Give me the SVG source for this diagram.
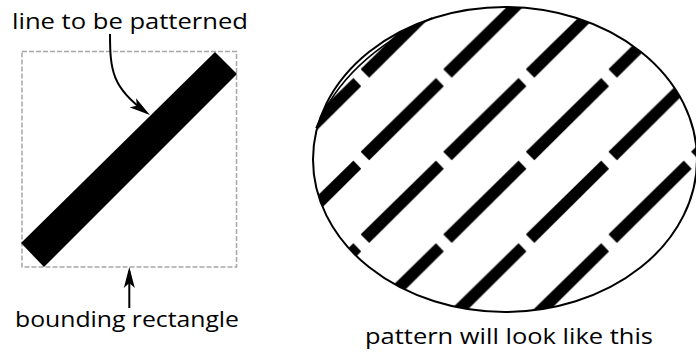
<svg xmlns="http://www.w3.org/2000/svg" width="696" height="354" viewBox="0 0 696 354">
  <style>
    .lbl { font-family: "Open Sans", Lato, "Liberation Sans", sans-serif; font-size: 21.5px; fill: #000; }
    .conn { fill: none; stroke: #000; stroke-width: 2; }
  </style>
  <defs>
    <marker id="ah" markerUnits="userSpaceOnUse" markerWidth="24" markerHeight="12" refX="17" refY="6" orient="auto">
      <path d="M0,0.5 L21,6 L0,11.5 L5,6 Z" fill="#000"/>
    </marker>
    <pattern id="dashpat" patternUnits="userSpaceOnUse" x="361" y="77.5" width="82.6" height="82.6">
      <polygon points="75,0.6 82.9,8.7 8.2,82.8 -0.3,74.3" fill="#000"/>
    </pattern>
  </defs>
  <rect width="696" height="354" fill="#fff"/>

  <g id="bounding-rect">
    <rect x="22" y="51.5" width="214.5" height="215.5" fill="none" stroke="#a6a6a6" stroke-width="1.5" stroke-dasharray="5 2"/>
  </g>
  <g id="line">
    <polygon points="215,52 237,74 44,267 21,243" fill="#000"/>
  </g>
  <g id="pattern-ellipse">
    <ellipse cx="505" cy="159.5" rx="192" ry="152.5" fill="url(#dashpat)" stroke="#000" stroke-width="2"/>
    <path d="M316,128 Q345,58 432,18" fill="none" stroke="#000" stroke-width="1.5"/>
  </g>

  <g id="connectors">
    <path class="conn" d="M110,34 C110,70 112,88 146.7,112.7" marker-end="url(#ah)"/>
    <path class="conn" d="M129.3,308 L129.3,271" marker-end="url(#ah)"/>
  </g>

  <g id="labels">
    <text class="lbl" x="12" y="29" textLength="236" lengthAdjust="spacingAndGlyphs">line to be patterned</text>
    <text class="lbl" x="15" y="327" textLength="224" lengthAdjust="spacingAndGlyphs">bounding rectangle</text>
    <text class="lbl" x="365" y="344" textLength="288" lengthAdjust="spacingAndGlyphs">pattern will look like this</text>
  </g>
</svg>
